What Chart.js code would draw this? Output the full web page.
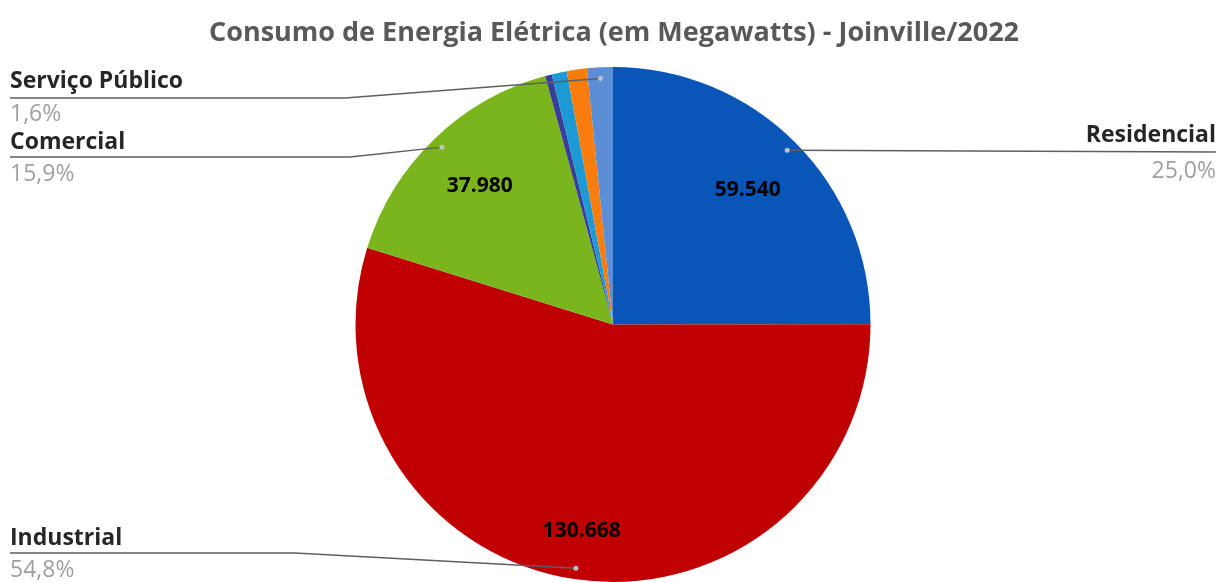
<!DOCTYPE html>
<html lang="pt-BR">
<head>
<meta charset="utf-8">
<title>Consumo de Energia Elétrica - Joinville/2022</title>
<script src="https://cdn.jsdelivr.net/npm/chart.js@4/dist/chart.umd.min.js"></script>
<style>
  html, body { margin: 0; padding: 0; background: #ffffff; overflow: hidden; }
  canvas { display: block; }
</style>
</head>
<body>
<canvas id="chart" width="1218" height="582"></canvas>
<script>
// Consumo por classe (MW), sentido horário a partir do topo
const categories = ['Residencial', 'Industrial', 'Comercial', 'Rural', 'Poder Público', 'Iluminação Pública', 'Serviço Público'];
const consumo = [59540, 130668, 37980, 1010, 2250, 3000, 3852];
const sliceColors = ['#0a55b8', '#c00000', '#7ab51d', '#3b3e99', '#1b9ad6', '#f97c0c', '#5b8ed5'];
const titleText = 'Consumo de Energia Elétrica (em Megawatts) - Joinville/2022';

const FONT = '"Open Sans", "Noto Sans", sans-serif';
const fmtValue = v => v.toLocaleString('pt-BR');
const fmtPct = p => p.toFixed(1).replace('.', ',') + '%';

// Título centralizado no topo
const titlePlugin = {
  id: 'titleText',
  afterDraw(chart) {
    const ctx = chart.ctx;
    ctx.save();
    ctx.font = 'bold 27px ' + FONT;
    ctx.fillStyle = '#595959';
    ctx.textAlign = 'center';
    ctx.textBaseline = 'middle';
    ctx.fillText(titleText, 614, 33);
    ctx.restore();
  }
};

// Valores dentro das fatias maiores
const valueLabels = {
  id: 'valueLabels',
  afterDatasetsDraw(chart, args, opts) {
    const ctx = chart.ctx;
    const meta = chart.getDatasetMeta(0);
    const data = chart.data.datasets[0].data;
    ctx.save();
    ctx.font = 'bold 21px ' + FONT;
    ctx.fillStyle = '#000000';
    ctx.textAlign = 'center';
    ctx.textBaseline = 'middle';
    Object.keys(opts.radius).forEach(k => {
      const i = +k;
      const arc = meta.data[i];
      const mid = (arc.startAngle + arc.endAngle) / 2;
      const r = arc.outerRadius * opts.radius[k];
      ctx.fillText(fmtValue(data[i]), arc.x + Math.cos(mid) * r, arc.y + Math.sin(mid) * r);
    });
    ctx.restore();
  }
};

// Rótulos externos com linhas de chamada (nome + percentual)
const callouts = {
  id: 'callouts',
  afterDatasetsDraw(chart, args, opts) {
    const ctx = chart.ctx;
    const meta = chart.getDatasetMeta(0);
    const data = chart.data.datasets[0].data;
    const total = data.reduce((a, b) => a + b, 0);
    ctx.save();
    Object.keys(opts.items).forEach(k => {
      const i = +k;
      const c = opts.items[k];
      const arc = meta.data[i];
      const mid = (arc.startAngle + arc.endAngle) / 2;
      const r = arc.outerRadius * opts.anchor;
      const px = arc.x + Math.cos(mid) * r;
      const py = arc.y + Math.sin(mid) * r;

      // linha de chamada
      ctx.strokeStyle = '#5f5f5f';
      ctx.lineWidth = 1.5;
      ctx.beginPath();
      if (c.side === 'right') {
        ctx.moveTo(px, py);
        ctx.lineTo(c.edge, c.lineY);
      } else {
        ctx.moveTo(c.edge, c.lineY);
        ctx.lineTo(c.elbow, c.lineY);
        ctx.lineTo(px, py);
      }
      ctx.stroke();

      // ponto de ancoragem
      ctx.fillStyle = 'rgba(190,198,212,0.95)';
      ctx.beginPath();
      ctx.arc(px, py, 2.5, 0, Math.PI * 2);
      ctx.fill();

      // textos
      ctx.textAlign = c.side === 'right' ? 'right' : 'left';
      ctx.textBaseline = 'middle';
      ctx.font = 'bold 23px ' + FONT;
      ctx.fillStyle = '#262626';
      ctx.fillText(chart.data.labels[i], c.edge, c.nameY);
      ctx.font = '23px ' + FONT;
      ctx.fillStyle = '#9f9f9f';
      ctx.fillText(fmtPct(data[i] / total * 100), c.edge, c.pctY);
    });
    ctx.restore();
  }
};

new Chart(document.getElementById('chart'), {
  type: 'pie',
  data: {
    labels: categories,
    datasets: [{
      data: consumo,
      backgroundColor: sliceColors,
      borderWidth: 0
    }]
  },
  options: {
    responsive: false,
    animation: false,
    devicePixelRatio: 1,
    layout: { padding: { top: 67, left: 8, right: 0, bottom: 0 } },
    plugins: {
      legend: { display: false },
      tooltip: { enabled: false },
      valueLabels: { radius: { 0: 0.74, 1: 0.81, 2: 0.745 } },
      callouts: {
        anchor: 0.957,
        items: {
          0: { side: 'right', edge: 1216, lineY: 152, nameY: 135, pctY: 171 },
          1: { side: 'left', edge: 10, elbow: 295, lineY: 553, nameY: 538, pctY: 570 },
          2: { side: 'left', edge: 10, elbow: 350, lineY: 157, nameY: 142, pctY: 174 },
          6: { side: 'left', edge: 10, elbow: 345, lineY: 98, nameY: 81, pctY: 114 }
        }
      }
    }
  },
  plugins: [titlePlugin, valueLabels, callouts]
});
</script>
</body>
</html>
